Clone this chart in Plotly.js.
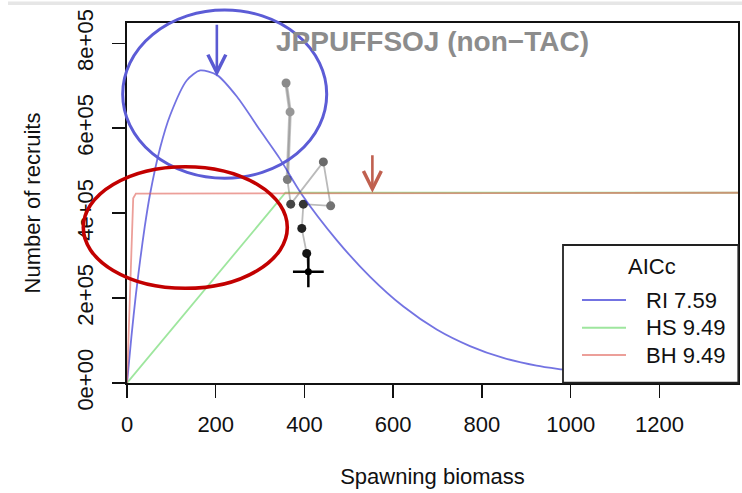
<!DOCTYPE html>
<html>
<head>
<meta charset="utf-8">
<script src="https://cdn.plot.ly/plotly-3.0.1.min.js"></script>
<style>html,body{margin:0;padding:0;background:#fff;}#chart{width:742px;height:493px;}</style>
</head>
<body>
<div id="chart"></div>
<script>
// ---- Observed stock-recruit pairs (time order, light -> dark) ----
const ssb = [358.5, 367.5, 361.4, 369, 442.5, 459, 397.5, 393.9, 405, 408.7];
const recruits = [706600, 638400, 479300, 421200, 520700, 417200, 421200, 364000, 305200, 261900];
const pointColors = ['#8a8a8a', '#979797', '#7c7c7c', '#454545', '#6a6a6a', '#737373', '#343434', '#222222', '#141414', '#000000'];

// ---- Fitted curves ----
const rickerS = [0, 10, 20, 30, 40, 52, 75, 97, 135, 165, 203, 248, 300, 344, 394, 473, 548, 623, 698, 773, 848, 923, 979, 1000];
const rickerR = [0, 110000, 208000, 292000, 368000, 445000, 555000, 630000, 713000, 736000, 725000, 674000, 595000, 529000, 444000, 336000, 250000, 180000, 126000, 87000, 59000, 41000, 32000, 29000];
const hsS = [0, 357, 1377];
const hsR = [0, 448000, 448000];
const bhS = [0, 6, 11, 14, 20, 1377];
const bhR = [0, 200000, 380000, 435000, 446000, 448000];

// ---- Axis ticks ----
const xTicks = [0, 200, 400, 600, 800, 1000, 1200];
const xTickText = ['0', '200', '400', '600', '800', '1000', '1200'];
const yTicks = [0, 200000, 400000, 600000, 800000];
const yTickText = ['0e+00', '2e+05', '4e+05', '6e+05', '8e+05'];

// ---- Legend ----
const legendLabels = ['RI 7.59', 'HS 9.49', 'BH 9.49'];
const curveColors = ['rgba(40,40,210,0.65)', 'rgba(40,200,40,0.45)', 'rgba(225,100,90,0.62)'];

// ---- Reference markers (arrows) ----
const rickerArrow = {s: 202.5, from: 847000, to: 722000};
const bhArrow = {s: 553, from: 540000, to: 448000};

const W = 742, H = 493;
const M = {l: 127, r: 4, t: 23, b: 110};
const pw = W - M.l - M.r, ph = H - M.t - M.b;
const px2x = p => (p - M.l) / pw;
const py2y = p => (H - M.b - p) / ph;

const traces = [
  {x: ssb.slice(0, 3), y: recruits.slice(0, 3), mode: 'lines', line: {color: 'rgba(150,150,150,0.55)', width: 3.5}, hoverinfo: 'skip'},
  {x: ssb, y: recruits, mode: 'lines', line: {color: 'rgba(140,140,140,0.6)', width: 1.8}, hoverinfo: 'skip'},
  {x: ssb.slice(0, -1), y: recruits.slice(0, -1), mode: 'markers', marker: {size: 9, color: pointColors.slice(0, -1)}},
  {x: rickerS, y: rickerR, mode: 'lines', line: {color: curveColors[0], width: 1.8, shape: 'spline', smoothing: 0.7}, name: legendLabels[0]},
  {x: hsS, y: hsR, mode: 'lines', line: {color: curveColors[1], width: 1.8}, name: legendLabels[1]},
  {x: bhS, y: bhR, mode: 'lines', line: {color: curveColors[2], width: 1.8}, name: legendLabels[2]},
  {x: ssb.slice(-1), y: recruits.slice(-1), mode: 'markers', marker: {size: 7, color: pointColors[pointColors.length - 1]}},
  {x: ssb.slice(-1), y: recruits.slice(-1), mode: 'markers', marker: {symbol: 'cross-thin', size: 22, color: '#000', line: {color: '#000', width: 2.5}}}
];

const shapes = [
  {type: 'rect', xref: 'paper', yref: 'paper', x0: px2x(8), x1: px2x(742), y0: py2y(5), y1: py2y(1.5), fillcolor: '#e6e6e6', line: {width: 0}, layer: 'above'},
  {type: 'rect', xref: 'paper', yref: 'paper', x0: px2x(563), x1: px2x(738.3), y0: py2y(382.7), y1: py2y(245), fillcolor: '#ffffff', line: {color: '#222', width: 1.8}, layer: 'above'}
];
const legendLineY = [300, 327.7, 355];
legendLineY.forEach((py, i) => {
  shapes.push({type: 'line', xref: 'paper', yref: 'paper', x0: px2x(582), x1: px2x(626), y0: py2y(py), y1: py2y(py), line: {color: curveColors[i], width: 2}, layer: 'above'});
});
shapes.push({type: 'circle', xref: 'paper', yref: 'paper', x0: px2x(122.7), x1: px2x(326.7), y0: py2y(178.3), y1: py2y(10), line: {color: '#5c5cd6', width: 3}, layer: 'above'});
shapes.push({type: 'circle', xref: 'paper', yref: 'paper', x0: px2x(83.3), x1: px2x(287.3), y0: py2y(288.3), y1: py2y(166.7), line: {color: '#c20000', width: 3.6}, layer: 'above'});

const annotations = [
  {xref: 'paper', yref: 'paper', x: px2x(651.5), y: py2y(266.5), text: 'AICc', showarrow: false, xanchor: 'center', yanchor: 'middle', font: {size: 22, color: '#111'}}
];
legendLineY.forEach((py, i) => {
  annotations.push({xref: 'paper', yref: 'paper', x: px2x(644), y: py2y(py), text: legendLabels[i], showarrow: false, xanchor: 'left', yanchor: 'middle', font: {size: 22, color: '#111'}});
});
annotations.push({x: rickerArrow.s, y: rickerArrow.to, ax: rickerArrow.s, ay: rickerArrow.from, axref: 'x', ayref: 'y', xref: 'x', yref: 'y', text: '', showarrow: true, arrowhead: 5, arrowsize: 1.35, arrowwidth: 2.6, arrowcolor: '#5a5ad2'});
annotations.push({x: bhArrow.s, y: bhArrow.to, ax: bhArrow.s, ay: bhArrow.from, axref: 'x', ayref: 'y', xref: 'x', yref: 'y', text: '', showarrow: true, arrowhead: 5, arrowsize: 1.35, arrowwidth: 2.6, arrowcolor: '#c0604f'});

const axisCommon = {
  ticks: 'outside', ticklen: 13, tickwidth: 1.5, tickcolor: '#111',
  showline: true, mirror: true, linecolor: '#111', linewidth: 1.6,
  showgrid: false, zeroline: false, tickfont: {size: 22, color: '#111'}
};

const layout = {
  width: W, height: H, margin: M,
  paper_bgcolor: '#fff', plot_bgcolor: '#fff',
  font: {family: '"Liberation Sans", Arial, sans-serif', size: 22, color: '#111'},
  showlegend: false,
  title: {text: 'JPPUFFSOJ (non−TAC)', font: {size: 28, color: '#8c8c8c', weight: 'bold'}, x: 0.5, xref: 'paper', xanchor: 'center', y: 1 - 41 / H, yref: 'container', yanchor: 'middle'},
  xaxis: Object.assign({}, axisCommon, {range: [0, 1377], tickmode: 'array', tickvals: xTicks, ticktext: xTickText, ticklabelstandoff: 8, title: {text: 'Spawning biomass', standoff: 32, font: {size: 22}}}),
  yaxis: Object.assign({}, axisCommon, {range: [0, 847800], tickmode: 'array', tickvals: yTicks, ticktext: yTickText, tickangle: -90, ticklabelstandoff: 11, title: {text: 'Number of recruits', standoff: 26, font: {size: 22}}}),
  shapes: shapes,
  annotations: annotations
};

Plotly.newPlot('chart', traces, layout, {displayModeBar: false, staticPlot: true});
</script>
</body>
</html>
